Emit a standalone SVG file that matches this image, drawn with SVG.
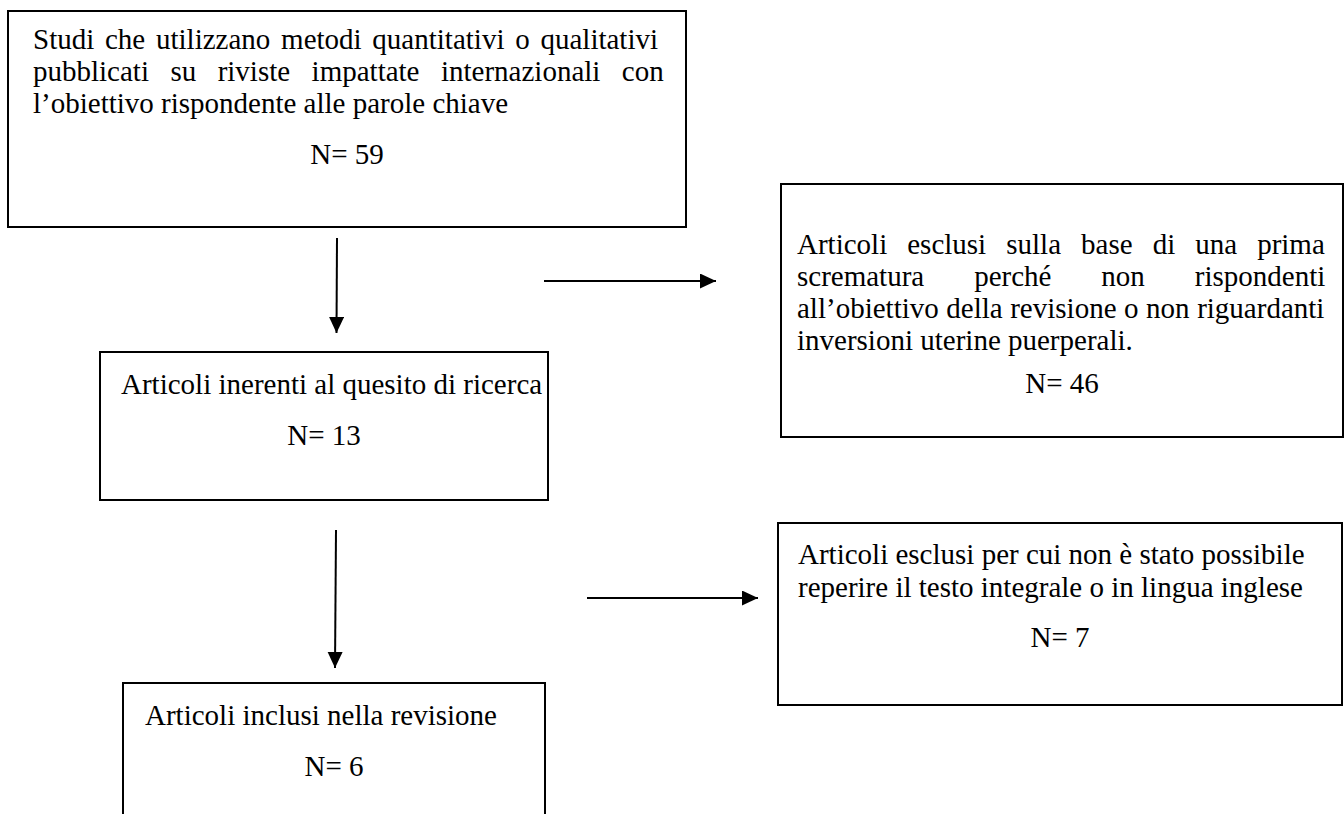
<svg xmlns="http://www.w3.org/2000/svg" width="1344" height="814" viewBox="0 0 1344 814">
  <style>
    .box { fill: #ffffff; stroke: #000000; stroke-width: 2; }
    .t { font-family: "Liberation Serif", "Times New Roman", serif; font-size: 29px; fill: #000000; }
    .c { text-anchor: middle; }
    .conn { stroke: #000000; stroke-width: 2; fill: none; }
  </style>
  <defs>
    <marker id="arrow" markerUnits="userSpaceOnUse" markerWidth="18" markerHeight="16" refX="16" refY="7.5" orient="auto">
      <path d="M0,0 L16,7.5 L0,15 Z" fill="#000000"/>
    </marker>
  </defs>
  <rect width="1344" height="814" fill="#ffffff"/>

  <g id="node-studi">
    <rect class="box" x="8" y="11" width="678" height="216"/>
    <text class="t" x="33" y="49" word-spacing="3.5">Studi che utilizzano metodi quantitativi o qualitativi</text>
    <text class="t" x="33" y="81" word-spacing="14.2">pubblicati su riviste impattate internazionali con</text>
    <text class="t" x="33" y="113">l’obiettivo rispondente alle parole chiave</text>
    <text class="t c" x="347" y="164">N= 59</text>
  </g>

  <g id="node-esclusi-1">
    <rect class="box" x="781" y="184" width="562" height="253"/>
    <text class="t" x="797" y="254" word-spacing="12.8">Articoli esclusi sulla base di una prima</text>
    <text class="t" x="797" y="286" word-spacing="42.7">scrematura perché non rispondenti</text>
    <text class="t" x="797" y="318" word-spacing="0.3">all’obiettivo della revisione o non riguardanti</text>
    <text class="t" x="797" y="350">inversioni uterine puerperali.</text>
    <text class="t c" x="1062" y="393">N= 46</text>
  </g>

  <g id="node-inerenti">
    <rect class="box" x="100" y="352" width="448" height="148"/>
    <text class="t" x="121" y="394">Articoli inerenti al quesito di ricerca</text>
    <text class="t c" x="324" y="445">N= 13</text>
  </g>

  <g id="node-esclusi-2">
    <rect class="box" x="778" y="523" width="564" height="182"/>
    <text class="t" x="798" y="564">Articoli esclusi per cui non è stato possibile</text>
    <text class="t" x="798" y="597">reperire il testo integrale o in lingua inglese</text>
    <text class="t c" x="1060" y="647">N= 7</text>
  </g>

  <g id="node-inclusi">
    <rect class="box" x="123" y="683" width="422" height="150"/>
    <text class="t" x="145" y="725">Articoli inclusi nella revisione</text>
    <text class="t c" x="334" y="776">N= 6</text>
  </g>

  <g id="connectors">
    <line class="conn" x1="337" y1="238" x2="336.5" y2="333" marker-end="url(#arrow)"/>
    <line class="conn" x1="544" y1="281" x2="716" y2="281" marker-end="url(#arrow)"/>
    <line class="conn" x1="336" y1="530" x2="335" y2="668" marker-end="url(#arrow)"/>
    <line class="conn" x1="587" y1="598" x2="758" y2="598" marker-end="url(#arrow)"/>
  </g>
</svg>
